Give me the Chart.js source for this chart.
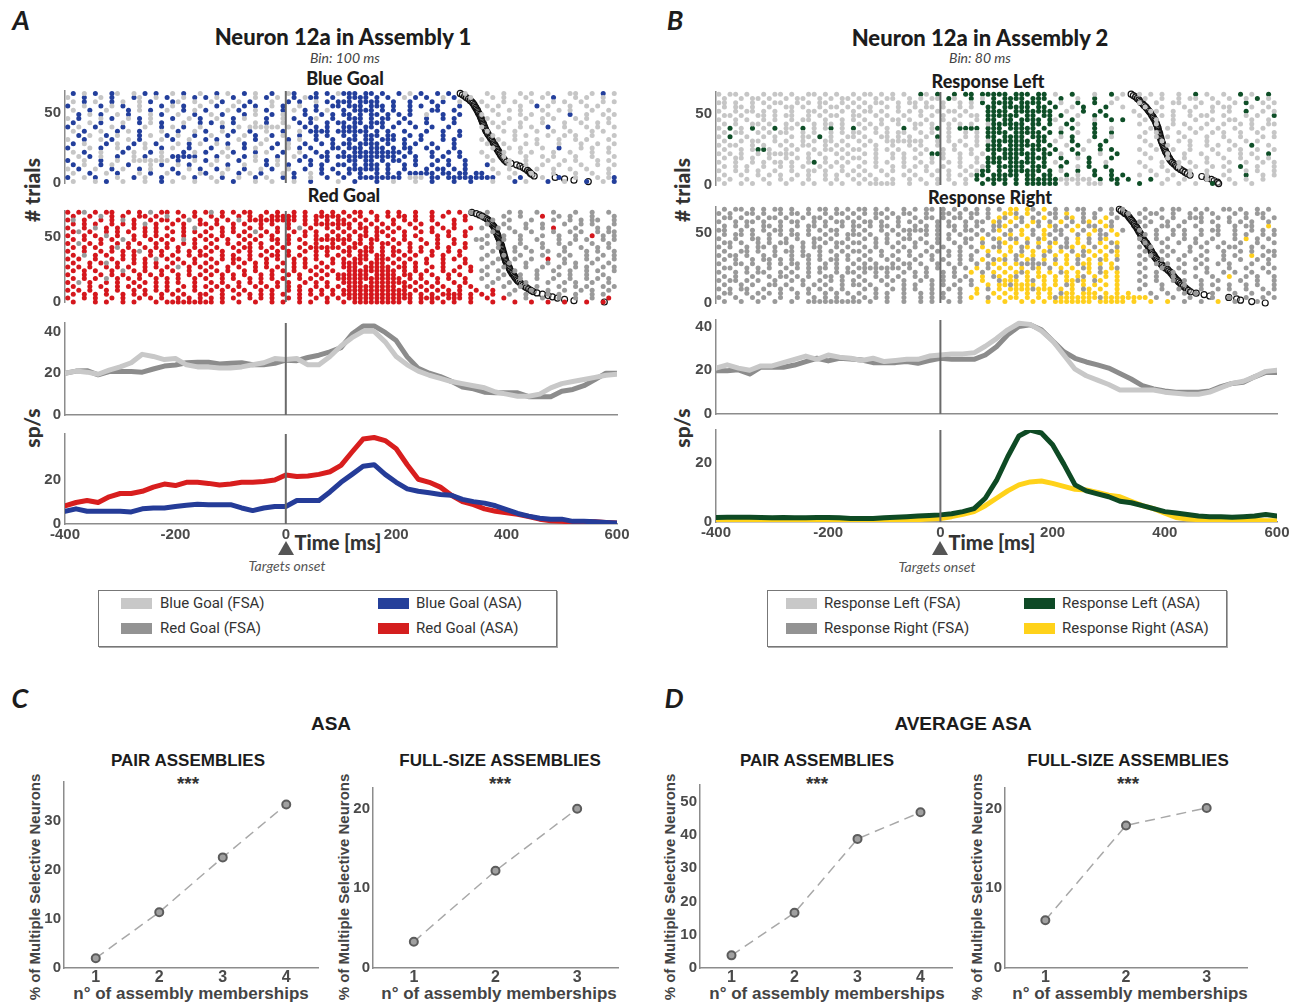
<!DOCTYPE html>
<html>
<head>
<meta charset="utf-8">
<script src="https://cdn.jsdelivr.net/npm/chart.js@4.4.1/dist/chart.umd.min.js"></script>
<style>
  body { margin: 0; width: 1301px; height: 1005px; background: #fff; position: relative; overflow: hidden; }
  canvas { position: absolute; }
  .t { position: absolute; white-space: nowrap; transform: translate(-50%, -50%); color: #1c1c1c; line-height: 1; }
  .v { transform: translate(-50%, -50%) rotate(-90deg); }
  .lato { font-family: Lato, 'Open Sans', sans-serif; }
  .ar { font-family: 'Liberation Sans', Arial, sans-serif; font-weight: bold; }
  .legend { position: absolute; border: 1px solid #777; box-shadow: 1px 1px 0 #aaa; }
  .sw { position: absolute; width: 31px; height: 11px; }
  .lt { position: absolute; font: 15px 'Liberation Sans Narrow', Roboto, sans-serif; color: #333; transform: translateY(-50%); white-space: nowrap; line-height: 1; }
  .tri { position: absolute; width: 0; height: 0; border-left: 8px solid transparent; border-right: 8px solid transparent; border-bottom: 14px solid #555; }
</style>
</head>
<body>

<!-- panel A -->
<div class="t lato" style="left:21px;top:19px;font-style:italic;font-weight:bold;font-size:27px">A</div>
<div class="t lato" style="left:343px;top:37px;font-weight:900;font-size:22px">Neuron 12a in Assembly 1</div>
<div class="t lato" style="left:345px;top:58px;font-style:italic;font-size:14px;color:#444">Bin: 100 ms</div>
<div class="t lato" style="left:345px;top:78px;font-weight:900;font-size:18px">Blue Goal</div>
<div class="t lato" style="left:344px;top:195px;font-weight:900;font-size:18px">Red Goal</div>
<div class="t lato v" style="left:31px;top:190px;font-weight:900;font-size:21px;color:#333"># trials</div>
<div class="t lato v" style="left:31px;top:428px;font-weight:900;font-size:21px;color:#333">sp/s</div>
<div class="t lato" style="left:338px;top:542px;font-weight:900;font-size:20px;color:#333">Time [ms]</div>
<div class="tri" style="left:278px;top:541px"></div>
<div class="t lato" style="left:287px;top:566px;font-style:italic;font-size:14px;color:#555">Targets onset</div>

<!-- panel B -->
<div class="t lato" style="left:675px;top:19px;font-style:italic;font-weight:bold;font-size:27px">B</div>
<div class="t lato" style="left:980px;top:38px;font-weight:900;font-size:22px">Neuron 12a in Assembly 2</div>
<div class="t lato" style="left:980px;top:58px;font-style:italic;font-size:14px;color:#444">Bin: 80 ms</div>
<div class="t lato" style="left:988px;top:81px;font-weight:900;font-size:18px">Response Left</div>
<div class="t lato" style="left:990px;top:197px;font-weight:900;font-size:18px">Response Right</div>
<div class="t lato v" style="left:681px;top:190px;font-weight:900;font-size:21px;color:#333"># trials</div>
<div class="t lato v" style="left:681px;top:428px;font-weight:900;font-size:21px;color:#333">sp/s</div>
<div class="t lato" style="left:992px;top:542px;font-weight:900;font-size:20px;color:#333">Time [ms]</div>
<div class="tri" style="left:932px;top:541px"></div>
<div class="t lato" style="left:937px;top:567px;font-style:italic;font-size:14px;color:#555">Targets onset</div>

<!-- legends -->
<div class="legend" style="left:98px;top:590px;width:457px;height:55px"></div>
<div class="sw" style="left:121px;top:598px;background:#c8c8c8"></div>
<div class="lt" style="left:160px;top:603px">Blue Goal (FSA)</div>
<div class="sw" style="left:121px;top:623px;background:#939393"></div>
<div class="lt" style="left:160px;top:628px">Red Goal (FSA)</div>
<div class="sw" style="left:378px;top:598px;background:#25409a"></div>
<div class="lt" style="left:416px;top:603px">Blue Goal (ASA)</div>
<div class="sw" style="left:378px;top:623px;background:#d41e1e"></div>
<div class="lt" style="left:416px;top:628px">Red Goal (ASA)</div>

<div class="legend" style="left:767px;top:590px;width:458px;height:55px"></div>
<div class="sw" style="left:786px;top:598px;background:#c8c8c8"></div>
<div class="lt" style="left:824px;top:603px">Response Left (FSA)</div>
<div class="sw" style="left:786px;top:623px;background:#939393"></div>
<div class="lt" style="left:824px;top:628px">Response Right (FSA)</div>
<div class="sw" style="left:1024px;top:598px;background:#0e4a26"></div>
<div class="lt" style="left:1062px;top:603px">Response Left (ASA)</div>
<div class="sw" style="left:1024px;top:623px;background:#ffd21a"></div>
<div class="lt" style="left:1062px;top:628px">Response Right (ASA)</div>

<!-- panels C / D -->
<div class="t lato" style="left:20px;top:697px;font-style:italic;font-weight:bold;font-size:27px">C</div>
<div class="t ar" style="left:331px;top:723px;font-size:19px">ASA</div>
<div class="t ar" style="left:188px;top:760px;font-size:17px">PAIR ASSEMBLIES</div>
<div class="t ar" style="left:188px;top:783px;font-size:19px;color:#333">***</div>
<div class="t ar" style="left:500px;top:760px;font-size:17px">FULL-SIZE ASSEMBLIES</div>
<div class="t ar" style="left:500px;top:783px;font-size:19px;color:#333">***</div>
<div class="t ar v" style="left:34px;top:887px;font-size:15px;color:#444">% of Multiple Selective Neurons</div>
<div class="t ar v" style="left:343px;top:887px;font-size:15px;color:#444">% of Multiple Selective Neurons</div>
<div class="t ar" style="left:191px;top:993px;font-size:17px;color:#444">n° of assembly memberships</div>
<div class="t ar" style="left:499px;top:993px;font-size:17px;color:#444">n° of assembly memberships</div>

<div class="t lato" style="left:674px;top:697px;font-style:italic;font-weight:bold;font-size:27px">D</div>
<div class="t ar" style="left:963px;top:723px;font-size:19px">AVERAGE ASA</div>
<div class="t ar" style="left:817px;top:760px;font-size:17px">PAIR ASSEMBLIES</div>
<div class="t ar" style="left:817px;top:783px;font-size:19px;color:#333">***</div>
<div class="t ar" style="left:1128px;top:760px;font-size:17px">FULL-SIZE ASSEMBLIES</div>
<div class="t ar" style="left:1128px;top:783px;font-size:19px;color:#333">***</div>
<div class="t ar v" style="left:669px;top:887px;font-size:15px;color:#444">% of Multiple Selective Neurons</div>
<div class="t ar v" style="left:976px;top:887px;font-size:15px;color:#444">% of Multiple Selective Neurons</div>
<div class="t ar" style="left:827px;top:993px;font-size:17px;color:#444">n° of assembly memberships</div>
<div class="t ar" style="left:1130px;top:993px;font-size:17px;color:#444">n° of assembly memberships</div>

<canvas id="rA1"></canvas><canvas id="rA2"></canvas><canvas id="pA1"></canvas><canvas id="pA2"></canvas>
<canvas id="rB1"></canvas><canvas id="rB2"></canvas><canvas id="pB1"></canvas><canvas id="pB2"></canvas>
<canvas id="c1"></canvas><canvas id="c2"></canvas><canvas id="d1"></canvas><canvas id="d2"></canvas>

<script>
// raster rows: one string per trial row (top row first), one char per 10 ms bin from -400 ms
// '.' no spike, 'o' spike (gray), 'x' spike in assembly activation (colour); '|' only groups 250 ms
const trialStep = 3;
const blueGoalTop = 64, redGoalTop = 69, respLeftTop = 64, respRightTop = 67;

const rasterBlueGoal = [
  '.x.o.x..xo..o.x.x..o.x..o|..x.o..x.o..x..ox...x.x.o|xxx.xx.x..x.o.x..x.x..o..|.o..o..o.o..o...oo..o.x.o',
  'o..x..o.x...xo..o.x..o.x.|x.o..x...o.x.o..x.oxx..x.|.xxxx.x.x..o.x.x..o.x..o.|..o.o...o..o.x...o.o..o..',
  '.o.x.o..x.o..o.x...xo..o.|.o.x..o.x...o..x.x..o.x.x|xx.xxxx..x..x...x.x..o...|o...o.o..o...o.o..o...o.o',
  'x..o..x.o.x..o...x.o.x..o|..x..o.x.x..o.x..o..x..xx|.xxx.xxx.x..x.x..x...x...|.o.o...o..x.o...o..o.o...',
  '.o..x..o...x.o.x..o..x.o.|x...o.x..o.x..x.o.x.x.o..|x.xxxx.x.x..x...xx..x....|..o..o.o...o..o.o...o..o.',
  '..x.o.x..o.x...o.x..o..x.|.o.x...x.o..x.o...x..x.x.|xx.x.xx.x.x.x..o..x..x...|o..o...o.o..o...x..o..o.o',
  'o.x...o.x..o.x.o...x..o.x|..o..x.o...x..o.x..xo..x.|.xxx.x.xx..x...x..x.x....|.o...o..o..o.o...o.o...o.',
  '.x..o.x...o..x.o.x...o..x|.x.o.x...o.x..o..x.x..x.x|x.xx.xxx..x.x..x....x....|..o.o..o...o...o..o..o.o.',
  'x.o..x..o.x...o..x.o.x..o|...x..o.oooooo.o..x.x.x..|xxx.xx.x.x...x..x..x.....|o..o...o.o..x..o...o.o..o',
  '.o.x..o..x.o.x...o..x..o.|x..o.x..x..o..x..o.xxxx.x|xxxxx.x.x..x...x..x..x...|.o..o.o...o..o..o...o.o..',
  '..x.o..x.o...x.o..x.o..x.|.o..x..o.x..x.o..x..x.x..|x.x.xxx.xx..x.x...x..x...|..o...o.o...o..o.o..o...o',
  'o..x..o.x..o.x...o.x..o..|x.x...o..x.o...x.o..x..x.|.xx.xx.xxx.x..x...x.x....|o..o..o...o...o..o.o...o.',
  '.x.o...x.o..x.o.x...o.x.o|..o.x..x..o..x.o..x..x.x.|xx.xxxx.x..x.x..x...x....|.o..o...o.o...o...o..o..o',
  'x...o.x..o.x..o..x.o..x..|.x..o..x.o..x..o.x.x...xx|.xxx.xxx.x.xx..x.x..x....|..o..o.o...o..x...o.o..o.',
  '.o.x..o...x.o..x.o...x.o.|x..o.x...x.o..x..o..x.x..|x.xxxxxxxxx.x...x..x.x...|o...o..o.o...o..o...o..o.',
  '..o.x.o..x..o.x..o.xxxxx.|..x.o..x.o...x..o.x..xx.x|xxxxxxxxxx.x.x..x.x..x...|.o..o...o..o.o...o..o...o',
  'x..o..x..o..ooooooo.x..o.|x.o...x..o.x.o...x.x..x..|.xx.xx.x.xx..x...x.x..x..|..o..o..o...o..o.o...o.o.',
  '.x.o..x.o..x...o.x..o.x..|.o..x..o...x.o.x...x.x..x|x.x.xxx.x..x.x..x..x..x..|.x...o..o..o..o...o..o..o',
  'o.x..o..x.o..x.o...x..o.x|..x.o..x..o.x..o..x..x.x.|.xxxxxx.x..x...x.xx.x.x..|..o..o....o..o..o..o...o.',
  '.o..x..o.x...o.x..o.x...o|x..o..x.o.x...o.x..o.x..x|.x.x..x.x.x.xxxxx.xx.xx.x|x..o..o..o...o...o..o..o.',
  'x..o.x...o..x.o..x...o.x.|.o.x..o..x.o..x.x..o..x..|x..xxxxxxxx.ooo.xx.xxxxxx|xxx..o.x...o..x..o...o.ox',
  '.o...o.x..o...o..x.o...o.|..o..x...o..o...o..x....o|..x...x..o...o..x...x..x.|..o...x.o...x..o...x..o.x'
];

const rasterRedGoal = [
  'x.xo.x.xx..x.x.o.xx.x..x.|xo.x.x.xx..x.x..x.x..x.x.|x.xx.x..x.x..x..x..x.x.o.|.o...o.o..o..o...o..o..o.',
  '.x..x.o.x.x..xx.x.o..x.x.|.x.x..x.x.x.xxxxx.x.xxxxx|.x.x..x.x.xx.x..x.x...x..|o...o..o...x..o.o...o...o',
  'xo.x..x.x.o.x..x.xx.x.o.x|..x.x.o.xxxxxxxxx.x.x.x.x|x.x.x.x..x.x.x..x...x.x..|..o..o...o...o..o.o.oo..o',
  '.x.x.x..x.x.x.o.x..x.x..x|x.x..x.x..x.x..x..x.xxxxx|xx.x.x.x.x..x.x..x..x....|.o..o...o..o...o..o.o...o',
  'x..x.o.x.x..x.x.x.x..x.o.|.x.x.x..x.x..x.x.o.x..x.x|.x.xx.x.x.x..x..x.x.x..x.|o..o.o..o..o.x...o...o.o.',
  '.xo.x..x.x.x..x.x..x.x.x.|x..x.x.x.o.x.x..x.x.x..x.|x.x.x.xx.x.x..x.x..x..x..|..o...o..o...o..o.o..o.oo',
  'x..x.x.o.x..x.x.x.x..x..x|.x.x..x.x.x.x..x..x.x.x.x|.x.xx.x.x..x.x...x.x..x..|.o..o..o...o..o..o..x.o.o',
  '.x.x..x.x.o.x..x.x.x.o.x.|x.x.x..x.x..xx.x.x..xxxxx|xx.x.xx..x.x..x..x..x...o|o...o..o..o...o..o.o..o.o',
  'x.o.x.x..x.x.x..x.x..x.x.|.x..x.x.x.x..x.x..x.x..x.|x.xx.x.xx.x.x..x.x..x.x..|.o.o...o...o..o.o...o..o.',
  '.x.x.x..xo.x..x.x.x.x..x.|x.x..x.xx.x.x.x..x.xxxxxx|.xx.xx.x.x..x.x..x.x..x..|o..o..o.o..o...o..o..o.o.',
  'x..x..x.x.x.xo.x.x..x.x.x|.x.x..x.x..x.x.x..x.x.x..|xx.xxx.x.xx.x.x.x..x.x...|..o...o..o..o..o...o.o..o',
  '.x.o.x.x..x.x..x.x.x..x.x|x..x.x..x.x.xx.x.x..x.x.x|.x.xx.xx.x.x.x..x.x..x...|.o..o..o...o..o.o..o..o.o',
  'x.x..x..x.x.x.x.o.x.x..x.|.x.x.xx.x..x.x..x.x.x..x.|x.xxx.xxx.x.x..x..x.x.x..|o..o..o..o..x..o...o.o..o',
  '.x..x.xo.x..x.x.x..x.x.x.|x.x..x.x.x.x..x.x.x..x.x.|xxxx.xxx.x.x.x.x..x...x..|..o..o..o...o..o.o..o..o.',
  'x.x.x..x.x.x..x.x.x.o.x.x|.x..x.x..x.x.x..x.x.x.x..|xxx.xxxxx.xx.x..x.x..x.x.|.o..o...o..o..o..o.o..o.o',
  '.x.x.x..x.o.x.x..x.x..x..|x.x.x..x.x..x.x.x..x.x.x.|.xxxxxxxxx.x.x.x..x.x..x.|o..o..o...o..o..o..o.o..o',
  'x..x..x.x.x..x.x.x..x.x.x|.x.x.x.x..x.x..x.x..x.x.x|xxxxx.xxxx.xx.x.x..x.x...|.o..o..o..o...o.o..o..o..',
  '.x.x.x.o.x.x.x..x.x.x..x.|x..x.x..x.x.x.x..x.x.x..x|xxxxxxxxxxx.x.x..x.x..x..|o..o...o..o..o..o..o.o.o.',
  'x.o.x..x.x..x.x.x.x.x..x.|.x.x..x.x.x..x.x..x.x.x..|xxxx.xxxxxxx.x.x.x..x.x..|..o..o..o...o..o.o..o..o.',
  '.x..x.x..x.x.x..x.x..x.x.|x.x.x.x..x.x.x.x.x..x.x.x|.xxxxxxxxx.xx.x.x.x..x.x.|.o..o..o..o...o..o.o..o.o',
  'x.x.x..x.x..x.x.x.x.x..x.|.x.x.x.x..x.x..x.x.x.x.x.|xxxxxxxxxxxx.x.x.x.x.x..x|..x...o..o..o..o..o.o..o.',
  '.x.x.x.x..x.x.x..x.x.x..x|x..x..x.x.x.x.x..x.x.x.x.|xxxxxxxxxxxxx.x.x.xxxx.x.|x.x..o..o...o.o..o..o.o..',
  'x..x.x..x.x..x.x.x..x.x.x|.x.x.x..x.x.x..x.x..x.x.x|.xxxxxxxxxxxx.xxxx.xxx.x.|.x..x...o..o..o..o..o..x.',
  '.x...x.x..x.x...x.xxxxxxx|xx.x..x..x..x.x..x.x..x..|x.xxxxxxxxx.x.x.x.x.x..x.|..x...x..x..x..x...x..x..'
];

const rasterRespLeft = [
  'o.oo.o..o.oo.o..oo.o.o..o|.oo.o.o.o..xo.x..x.xx.xxx|xx.xxx.xx.o..x...o..x.o..|o.o.o..o..x.o..o..x.o..x.',
  '.o..o.oo.o..o.oo..o.o.oo.|o..o.oo..o.o.oo.xo..x.o.x|.xxxx.xxx..x..o..x...o...|.o..o..o.oo..o..o..o.x.o.',
  'oo.o..o.o.oo..o.o.oo..o.o|.o.oo..o.oo.o..o..o.o.x.x|xxx.xxxx.x.o..x..x..o....|o..o..oo...o..o..o.x..o.o',
  '.o.oo.o..o..oo.o..o.oo.o.|o.o..o.o..o.oo.o..o.o..xx|.xxxxx.xx.x..o.x...x..o..|.o..o...o.o..o.oo...o..o.',
  'o..o.oo.o.o..o..oo.o..o.o|.oo.o..o.o.o..o.oo.o...xx|xx.xxxxxxx..o..x..x.....o|..oo..o..o...o..o..x..o.o',
  '.oo.o..oo.o.oo..o.o.oo..o|o..o.o..o..o.o.o..o.oo.xx|xxxx.xx.xx.x..o..x.x.....|o...o.o..o.oo..o...o.o..x',
  'o..o.o..o.o..o.oo..o..o.o|.o..o.oo.o..o..o.o...o.xx|.xx.xxxx.xo..x...o..x.x..|.o.o..o...o..o..oo..o..o.',
  '.o.o..oo.o..o.o..o.oo.o..|o.o.o..o..oo.o..o.o.o..ox|xxxxx.xx.x..x.o..x.......|o..o..o.o...o..o..o.o..oo',
  'o.x.o.x.o.x.oo.x.o.ox.o.x|.o.o.o..x.o..ox.o.xxxx.xx|x.xxxxx.x..o.x...x..o....|..o..o...o.o..o..o..o.o..',
  '.o.oo..o.o.oo..o.o..o.o.o|o..o.o.oo..o.o..o..o.o.xx|xx.xxxxx.x.x..o..x..x....|.o.o...o..o..o.o..o..o..o',
  'o.x..o..o.o..o.oo.x.o..oo|.o..oo.o.o..o.x.o..o.o.xx|.xxxx.xxx..o.x...x..o....|o..o.o..o...o..o..o...o.o',
  '.o..o.oo..o.o..o.o.oo.o..|o.o..ooooooo..o.o.o..o.ox|xxxxxx.xx.o..x..o..x.....|.o..o..o.o..o...o..o.o...',
  'o.oo..o.o..o.o.oo..o.o.o.|.o.o..o..o.o..o..o.o.o.xx|x.xxxxxx.x..o.x...x......|..o..o...o..o.o..o..x..o.',
  '.o..o.oxxo..o.o..o.oo.o.o|o..o.o.o..o.o..o.o..o..xx|xxxxx.xxx.x..x.o..x.x....|o..o..o..o...o..o.o..o..o',
  'o.o.o..o.ooooo..o.o..o.o.|.o.o..o.o..o.xxo..o.o.o.x|.xxxxxx.xx.o..x...o..x...|.o...o..o..o..o...o.o..x.',
  '.o.oo.o..o..o.o.o..o..o.o|o..o..o.o.o..o.o..o..o.xx|xxxx.xxxx..x..o.x...x....|..o..o..o...o..o..o..o.o.',
  'o..o..o.o.oo.o..ox.o.o.o.|.o.o.o..o..o.o..o.o..o.xx|x.xxxxx.x.o.x...x..o.....|o...o..o.o..o...o..o..o.o',
  '.o.o.o..o..o.o.o..o.o.o..|o..o..o.o.o.o..o..o.o.ox.|xxxxx.xxx..x..o.x..x.....|.o..o..o..o..o.o..x..o..o',
  'o..o.o.o..o..o..oo.o..o.o|.o..o.o..o..o.o.o..o.oxx.|x.xxxxxx.x.o..x..x..x....|..o..o...o..o...o..o.o..o',
  '.o..o..o.o.o..o.o..o.o.o.|o.o..o..o.o..o..o.o.oxx.x|xxxx.xx.xx..x.o..x..x.x..|o..o..o..o..o..o...x..o.o',
  'o.o..o..o..o.o..o..o.o..o|.o.o..o..o.o..o.o..o.x.xx|xx.x.xxxxxxoooooo.x.xx.x.|..x..o..o...o...o..o..o..',
  '.o..o.o..o..o..o.o..o.o..|o.ooooo..o..o.o..o.o..x.x|.x.x.xxxxxx.o.o.ooo..x...|x...o..o..o..x...o..o...'
];

const rasterRespRight = [
  '.o.oo.o.o.oo.o..o.oo.o.o.|oo.o.o..o.o.oo.o.o.o.o.o.|o.xx.xo.x.o.o.oo..o.o.o..|.o..o.oo..o.o..oo.o..o.o.',
  'o.o..oo.o..o.oo.o..o.oo.o|.o.oo.o.oo..o..oo.o.oo.o.|.xxo.x.o.oo.x..o.o..o..o.|o.oo..o..o.o.o...o.o.oo..',
  '.oo.o..o.oo.o..o.oo.o..o.|o..o.o.o..o.oo.o.oo.o..o.|xo.xo.o.x.o.ox.o.o.x.o...|.o..o.o..ooo..o.o..o..o.o',
  'o..o.oo.o..o.oo..o.o.oo.o|.oo.o..o.o.o..o.o..o.oo.x|o.x.o.xo.o.x.o.ox.x.o....|o.o..o..o..o.o..o.o.o..o.',
  '.o.o.o..oo.o..o.oo.o..o.o|o.o.oo.o..o.o.o.oo.o.o..o|ox.o.x.o.xo.o.x.oo.xo....|.o..oo.o..o...o..o.oo..x.',
  'oo..o.o.o.oo.o..o.o.oo..o|.o..o.o.ooooo.o..o.oo.o.o|x.o.x.o.x.oo.x.o.xo.x.o..|o..o..o.o..o.oo..o..o.o.o',
  '.o.oo.o..o.o.oo.o..o.o.oo|o.o..o.o.o..o.o.o.o..o.o.|.ox.x.o.xo.o..o.x.oo.x...|.o.o..o.o..o..o..o.o..o.o',
  'o..o..oo.o..o.o..oo.o..o.|.o.o.o..oo.o..o.o..oo.x.o|x.oo.x.ox.o.o.x.o.ox.....|o..o.o..o.o..o...o.x.o.o.',
  '.oo.o..o.o.oo..o.o.o.oo.o|o..o.o.o..o.o.o..o.o..o..|ox.x.o.x.ox.o.x.o.x.ox...|.o..o..o..o.o..o..o..o..o',
  'o.o..o.oo.o..o.o.oo..o.o.|.o.o..o.o.o..o.o..o.o.x.o|o.x.ox.o.x.oox.x.o.x.o...|o.o..o...o.o..o.oo..o.o..',
  '.o..oo.o..o.oo.o..o.o.o.o|o.o.o..o.o..o.o.o.o..o.x.|x.x.o.x.xo.x.o.ox.x.ox...|.o..o.o..o..o..o..o.o..oo',
  'o.oo.o..o.o..o.oo.o..o.o.|.o..o.o..o.o.o..o.o.o..o.|.x.ox.x.o.x.x.xo.x.x.x...|o.o..o..o..o...o.o..x.o.o',
  '.o.o..o.oo.o.o..o.o.oo.o.|o.o..o.o..o..o.o..o.o.x.o|xo.o.xo.x.o.x.o.x.ox.o...|.o..o..o..o.o..o..o..o.o.',
  'o..oo.o..o.o.oo.o..o.o..o|.o.o..o.oo.o..o.o.o..o.ox|.x.xooooo.x.x.oxx.x.x....|o..o.o..o..o..o.o...o..o.',
  '.oo..o.o.o..o.o.o.oo.o.o.|oooooooo.o..o.o..o.o.x.o.|x.x.x.ox.o.x.x.ox.o.xo...|.o..o..o..o.o...o..o..o.o',
  'o..o.o.oo..o.o..o.o..o.oo|.o.o.o..o.o.o..o.o..x.o.x|.x.xox.x.x.ox.x.x.ox.x...|o..o..o.o...o..o.o..o..o.',
  '.o.o..o..o.oo.o.o..oo.o..|o..o.o.o..o.o..o.o.o..x.o|x.xo.x.xx.x.x.xo.x.x.x...|.o.o..o...o..o..x..o.o..o',
  'o.oo.o.o..o..o.o..o.o.o.o|.o..o.o.o..o.o.o..o.o.x..|oxxx.xo.x.x.xxox.ox..x...|o..o..o.o..o..o...o..o..o',
  '.o..o.o..oo.o..o.o.o..o.o|o.o..o..o.o..o.o.o..o..x.|xxoxxxx.x.x.ox.x.x.x.x...|.o..o...o..o.o..o..o.o..o',
  'o.o.oo..o..o.o..o.o.o.o..|.o.o..o.o.o..o..o.o..x.o.|x.xxxxoxxx.x.x.ox.x..x...|o...o..o...o..o.o..o..o.o',
  '.oo..o.o.o.o..o.o..o.o.o.|o..o.o..o..o.o.o..o..x..x|.x.x.x.x.x.oxx.xxx.x.x.x.|..o..o..o.o..o...o..o..o.',
  'o..o..o.o..o..o..o.o.o..o|.o.o.o..o..o.o.o..o.x..o.|x.xx.x.x.xoxxxxxxxoxxxxxx|xx.o..o..o...o..o..o..o.o',
  '.o..o..o..o..o..ooooooooo|o.o..o..o..o.o..o.o....x.|.x..x.x.x.xxxxxxx.xxxxx.x|..x..x..o..o..x..o...o...'
];

// reaction times (ms), one per trial from the top trial down
const rtBlueGoal = [316,320,324,327,331,334,337,339,341,342,344,345,347,348,349,351,352,353,354,355,356,357,358,359,360,361,362,363,365,366,368,370,371,373,374,376,377,379,380,382,383,385,386,388,389,391,393,395,397,400,408,418,424,430,434,438,441,443,446,450,488,505,522,548];
const rtRedGoal = [337,345,351,356,360,364,367,370,372,373,375,377,378,379,380,381,382,383,384,385,386,387,388,389,389,390,391,391,392,393,393,394,395,395,396,397,397,398,399,400,401,402,404,405,406,407,409,410,412,414,415,417,419,421,424,427,430,433,436,440,444,448,455,465,475,483,492,505,522,577];
const rtRespLeft = [340,344,348,351,354,356,358,361,363,366,368,370,372,374,376,377,379,380,382,383,384,385,386,387,388,388,389,390,391,391,392,393,393,394,395,396,397,398,399,400,401,402,404,405,406,408,409,411,413,416,419,421,424,428,432,436,440,445,466,475,483,488,494,496];
const rtRespRight = [319,322,326,329,333,335,337,339,341,343,345,346,348,350,351,353,354,356,357,358,360,361,363,364,367,368,370,371,373,374,376,377,379,381,382,384,386,388,390,393,395,398,401,405,407,410,412,414,416,418,420,423,425,428,430,433,436,439,442,446,456,470,480,514,528,535,555,579];

// PSTH (sp/s)
const psthTime = [-400,-380,-360,-340,-320,-300,-280,-260,-240,-220,-200,-180,-160,-140,-120,-100,-80,-60,-40,-20,0,20,40,60,80,100,120,140,160,180,200,220,240,260,280,300,320,340,360,380,400,420,440,460,480,500,520,540,560,580,600];
const psthTicks = [-400, -200, 0, 200, 400, 600];
const blueFSA = [20,21,20.5,19.5,21.5,23,25,29,28,26.5,27,24,23,23,22.5,22.5,23,24,25,27,26.5,27,24,24,28,33,37,40,40,35,28,24,21,19,17.5,16,15,14,13,11,10,9,9,10,13,15,16,17,18,19,19.5];
const redFSA = [20,21,21.2,19.2,20.8,20.8,20.8,20.5,22,23.4,23.9,25,25.2,25.2,24.4,24.7,25,24,24,24.7,26.2,26,27.5,28.6,30.2,32.2,38.7,42.6,42.6,39.5,35.6,27.8,22.3,20,18.4,16.1,13.4,12.5,10.9,10.6,10.6,10.6,8.75,8.75,8.75,11.4,12.2,14,16.9,20,20];
const blueASA = [5.8,6.9,5.8,5.8,5.8,5.8,5.5,6.9,7.3,7.3,8,8.5,9,8.8,8.8,8.8,7.3,6.1,7.3,8,8,10.7,10.7,10.7,14.6,19,22.6,26.3,27,22.6,19,16,14.9,14.2,13.4,13.1,11.2,10.2,9.5,8.3,6.6,4.8,3.6,2.6,2.2,2.2,1.2,1.2,1,0.7,0.4];
const redASA = [8.3,9.8,10.7,9.8,12.4,13.9,13.9,14.9,16.8,18.2,17.5,19,19,18.5,17.8,18.2,19,19,19.4,20,22.3,21.6,21.9,22.6,23.8,26.7,32.8,38.7,39.4,38,34.3,27,20.4,19,16.8,13.1,10.2,8.8,6.9,5.8,5.1,4.4,3.4,2.2,1.5,1.2,1,1,1,0.7,0.4];
const leftFSA = [21,22.5,21,20,22,22,23.5,25,26.5,25,27,26,25.5,24.5,25.5,24,24.5,25,25,26.5,27,27.5,27.5,28,31,34.5,38.5,41.5,41,38,33.5,27,20.5,17.5,15.5,13.5,11,11,11,11,10,9.5,9,9,10,12,14,15,17,19.5,20];
const rightFSA = [19.8,19.8,20.2,18.3,21.4,21.4,21.4,22.4,24,25.5,24.3,25.5,25.2,24.7,23.5,23.5,23.5,24,23.2,24.4,25.5,25,25,25,27,30.8,36.2,40,40.8,38.5,33.5,28.5,25.5,23.8,22.5,21,18.5,16,13,11.5,10.5,10,10,10,10.5,12.5,14,14.5,17,19,19];
const leftASA = [1.5,1.6,1.6,1.6,1.5,1.4,1.5,1.4,1.4,1.5,1.5,1.4,1.2,1.2,1.2,1.4,1.6,1.8,2,2.2,2.4,2.8,3.5,4.5,8,14,22,29,31,30,26,19.5,12.5,10.5,9.5,8.5,7,6.5,5.5,4.5,3.5,3,2.5,2,1.8,1.8,1.6,1.8,2,2.5,2];
const rightASA = [0.3,0.3,0.3,0.3,0.3,0.3,0.3,0.3,0.3,0.3,0.3,0.3,0.3,0.3,0.3,0.3,0.4,0.5,0.8,1,1.2,1.8,2.6,3.5,5.5,8,10.5,12.5,13.5,13.8,13,12,11,10.8,10,9,8.5,7,5.5,4.5,3,1.5,1,0.8,0.5,0.5,0.5,0.5,0.5,0.4,0.4];

// % of multiple selective neurons vs n° of assembly memberships
const memberships4 = [1, 2, 3, 4];
const memberships3 = [1, 2, 3];
const asaPair = [2.0, 11.4, 22.6, 33.4];
const asaFull = [3.3, 12.2, 20.0];
const avgPair = [3.8, 16.6, 38.8, 46.8];
const avgFull = [6.0, 17.9, 20.1];

Chart.defaults.font.family = "'Liberation Sans', Arial, sans-serif";
Chart.defaults.animation = false;
const tickFont = {size: 15, weight: 'bold'};
const tickColor = '#4a4a4a';
const axisColor = '#8c8c8c';

// vertical line at target onset
const zeroLine = {
  id: 'zeroLine',
  afterDatasetsDraw(chart, args, opts) {
    if (!opts.show) return;
    const {ctx, chartArea: a} = chart;
    const px = chart.scales.x.getPixelForValue(0);
    ctx.save();
    ctx.strokeStyle = '#6a6a6a';
    ctx.lineWidth = 2;
    ctx.beginPath();
    ctx.moveTo(px, a.top);
    ctx.lineTo(px, a.bottom);
    ctx.stroke();
    ctx.restore();
  }
};

// puts the canvas so the plot area lands on l,t,r,b of the page
function place(id, l, t, r, b, xH) {
  const c = document.getElementById(id);
  const padL = 4, padT = 14, padR = 20, padB = 14, yW = 44;
  c.width = Math.round(r - l) + yW + padL + padR;
  c.height = Math.round(b - t) + padT + padB + xH;
  c.style.left = Math.round(l - yW - padL) + 'px';
  c.style.top = Math.round(t - padT) + 'px';
  return {padding: {left: padL, top: padT, right: padR, bottom: padB}, yW: yW};
}

function yScale(max, ticks, yW, font, pad) {
  return {
    min: 0, max: max,
    grid: {display: false, drawTicks: false},
    border: {display: true, color: axisColor, width: 1.5},
    ticks: {padding: pad || 4, color: tickColor, font: font || tickFont},
    afterBuildTicks: s => { s.ticks = ticks.map(v => ({value: v})); },
    afterFit: s => { s.width = yW; }
  };
}

function rasterPoints(rows, top, ch) {
  const pts = [];
  rows.forEach((row, r) => {
    const s = row.replace(/\|/g, '');
    for (let i = 0; i < s.length; i++) {
      if (s[i] === ch) pts.push({x: -395 + 10 * i, y: top - trialStep * r});
    }
  });
  return pts;
}

function rtPoints(rts, top) {
  return rts.map((t, k) => ({x: t, y: top - k}));
}

const baseOpts = p => ({
  responsive: false,
  animation: false,
  events: [],
  layout: {padding: p.padding},
  plugins: {legend: {display: false}, tooltip: {enabled: false}, zeroLine: {show: true}}
});

function raster(id, l, t, r, b, max, rows, top, rts, grayCol, col) {
  const p = place(id, l, t, r, b, 0);
  const opts = baseOpts(p);
  opts.scales = {
    x: {type: 'linear', min: -400, max: 600, display: false},
    y: yScale(max, [0, 50], p.yW)
  };
  new Chart(document.getElementById(id), {
    type: 'scatter',
    data: {datasets: [
      {data: rasterPoints(rows, top, 'o'), pointBackgroundColor: grayCol, pointBorderWidth: 0, pointRadius: 2.5, clip: false},
      {data: rasterPoints(rows, top, 'x'), pointBackgroundColor: col, pointBorderWidth: 0, pointRadius: 2.5, clip: false},
      {data: rtPoints(rts, top), pointBackgroundColor: 'rgba(255,255,255,0.35)', pointBorderColor: '#111', pointBorderWidth: 1.2, pointRadius: 3, clip: false}
    ]},
    options: opts,
    plugins: [zeroLine]
  });
}

function psth(id, l, t, r, b, max, yTicks, series, colors, showX) {
  const xH = showX ? 26 : 0;
  const p = place(id, l, t, r, b, xH);
  const opts = baseOpts(p);
  opts.scales = {
    x: {
      type: 'linear', min: -400, max: 600,
      grid: {display: false, drawTicks: false},
      border: {display: true, color: axisColor, width: 1.5},
      ticks: {display: showX, padding: 2, color: tickColor, font: tickFont},
      afterBuildTicks: s => { s.ticks = psthTicks.map(v => ({value: v})); },
      afterFit: s => { s.height = xH; }
    },
    y: yScale(max, yTicks, p.yW)
  };
  new Chart(document.getElementById(id), {
    type: 'line',
    data: {datasets: series.map((s, i) => ({
      data: psthTime.map((x, k) => ({x: x, y: s[k]})),
      borderColor: colors[i], borderWidth: 5, pointRadius: 0, tension: 0,
      borderJoinStyle: 'round', borderCapStyle: 'round', fill: false
    }))},
    options: opts,
    plugins: [zeroLine]
  });
}

function member(id, l, t, r, b, xs, ys, ymax, yTicks) {
  const p = place(id, l, t, r, b, 22);
  const opts = baseOpts(p);
  opts.plugins.zeroLine.show = false;
  opts.scales = {
    x: {
      type: 'linear', min: 0.5, max: xs.length + 0.5,
      grid: {display: false, drawTicks: false},
      border: {display: true, color: axisColor, width: 1.5},
      ticks: {padding: 0, color: tickColor, font: {size: 16, weight: 'bold'}},
      afterBuildTicks: s => { s.ticks = xs.map(v => ({value: v})); },
      afterFit: s => { s.height = 22; }
    },
    y: yScale(ymax, yTicks, p.yW, {size: 15, weight: 'bold'}, 3)
  };
  new Chart(document.getElementById(id), {
    type: 'line',
    data: {datasets: [{
      data: xs.map((x, i) => ({x: x, y: ys[i]})),
      borderColor: '#a8a8a8', borderWidth: 1.5, borderDash: [10, 6], tension: 0,
      pointRadius: 4, pointBorderWidth: 2, pointBorderColor: '#5c5c5c', pointBackgroundColor: '#a0a0a0'
    }]},
    options: opts,
    plugins: [zeroLine]
  });
}

// panel A
raster('rA1', 65, 91, 617, 183, 65.7, rasterBlueGoal, blueGoalTop, rtBlueGoal, '#c6c6c6', '#233f9c');
raster('rA2', 65, 211, 617, 302, 70, rasterRedGoal, redGoalTop, rtRedGoal, '#9a9a9a', '#d5171d');
psth('pA1', 65, 323, 617, 415, 44, [0, 20, 40], [blueFSA, redFSA], ['#c8c8c8', '#8c8c8c'], false);
psth('pA2', 65, 434, 617, 524, 41, [0, 20], [blueASA, redASA], ['#253c98', '#d81e1e'], true);

// panel B
raster('rB1', 716, 92, 1277, 185, 65.5, rasterRespLeft, respLeftTop, rtRespLeft, '#c6c6c6', '#0f4f28');
raster('rB2', 716, 207, 1277, 303, 68.6, rasterRespRight, respRightTop, rtRespRight, '#9a9a9a', '#fecf1e');
psth('pB1', 716, 320, 1277, 414, 43, [0, 20, 40], [leftFSA, rightFSA], ['#c8c8c8', '#8c8c8c'], false);
psth('pB2', 716, 430, 1277, 522, 31, [0, 20], [leftASA, rightASA], ['#0e4a24', '#ffd21a'], true);

// panels C and D
member('c1', 64, 782, 318, 968, memberships4, asaPair, 38, [0, 10, 20, 30]);
member('c2', 373, 788, 618, 968, memberships3, asaFull, 22.6, [0, 10, 20]);
member('d1', 700, 785, 952, 968, memberships4, avgPair, 55, [0, 10, 20, 30, 40, 50]);
member('d2', 1005, 788, 1247, 968, memberships3, avgFull, 22.6, [0, 10, 20]);
</script>
</body>
</html>
